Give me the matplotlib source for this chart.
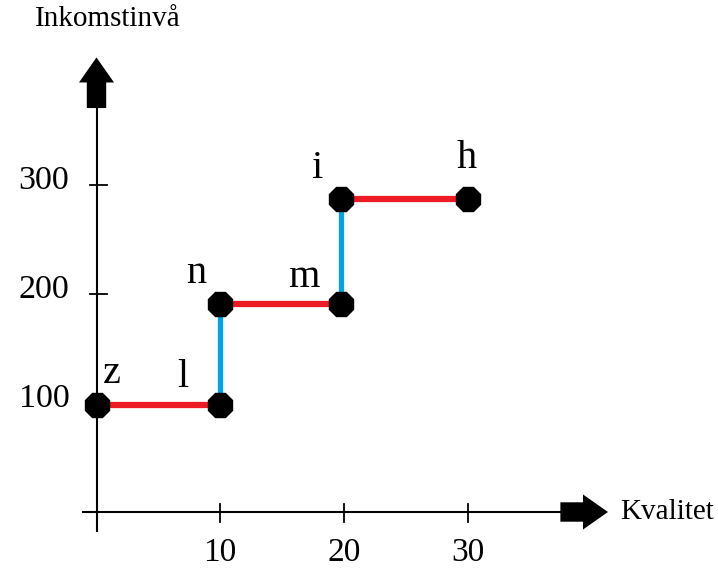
import matplotlib
matplotlib.use('Agg')
import matplotlib.pyplot as plt

# step path: quality (x) vs income level (y)
names = ['z', 'l', 'n', 'm', 'i', 'h']
kval = [0, 10, 10, 19.8, 19.8, 30]
inkomst = [98, 98, 191, 191, 287, 287]

xticks = [10, 20, 30]
yticks = [100, 200, 300]

plt.rcParams['font.family'] = ['Liberation Serif', 'DejaVu Serif']

fig = plt.figure(figsize=(7.18, 5.69), dpi=100)
ax = fig.add_axes([0, 0, 1, 1])
ax.set_axis_off()

# pixel -> data scale: 12.37 px per x unit, 1.09 px per y unit
ax.set_xlim(-96.5 / 12.37, (718 - 96.5) / 12.37)
ax.set_ylim(-57 / 1.09, 512 / 1.09)

# axes lines with block arrows
ax.plot([0, 0], [-18, 372], color='black', lw=1.5, solid_capstyle='butt')
ax.plot([-1.2, 37.6], [0, 0], color='black', lw=1.5, solid_capstyle='butt')
astyle = 'simple,head_length=1.25,head_width=1.75,tail_width=0.97'
ax.annotate('', xy=(0, 417), xytext=(0, 370.6),
            arrowprops=dict(arrowstyle=astyle, mutation_scale=14.4, color='black',
                            shrinkA=0, shrinkB=0, lw=0))
ax.annotate('', xy=(41.35, 0), xytext=(37.5, 0),
            arrowprops=dict(arrowstyle=astyle, mutation_scale=14.4, color='black',
                            shrinkA=0, shrinkB=0, lw=0))

# ticks and tick labels
for t in xticks:
    ax.plot([t, t], [7, -9], color='black', lw=1.3)
    ax.text(t, -37.6, str(t), ha='center', va='center', fontsize=24)
for t in yticks:
    if t != 100:
        ax.plot([-0.53, 0.85], [t, t], color='black', lw=1.3)
    ax.text(-2.2, t + 4, str(t), ha='right', va='center', fontsize=24.5)

ax.text(-5.0, 452, 'Inkomstinvå', ha='left', va='center', fontsize=21)
ax.text(42.3, 0, 'Kvalitet', ha='left', va='center', fontsize=21)

# segments between the points
seg_colors = ['#ed1c24', '#00a2e8', '#ed1c24', '#00a2e8', '#ed1c24']
for k in range(len(kval) - 1):
    ax.plot(kval[k:k + 2], inkomst[k:k + 2], color=seg_colors[k],
            lw=4.5 if k % 2 == 0 else 3.8, solid_capstyle='butt', zorder=2)

ax.plot(kval, inkomst, linestyle='none', marker='8', markersize=19,
        color='black', zorder=3)

# point letters (offsets in points)
offsets = [(11, 23), (-27, 20), (-17, 22), (-27, 19), (-18, 22), (-1, 29)]
for nm, x, y, off in zip(names, kval, inkomst, offsets):
    ax.annotate(nm, xy=(x, y), xytext=off, textcoords='offset points',
                ha='center', va='center', fontsize=29)

fig.savefig('out.png', dpi=100)
